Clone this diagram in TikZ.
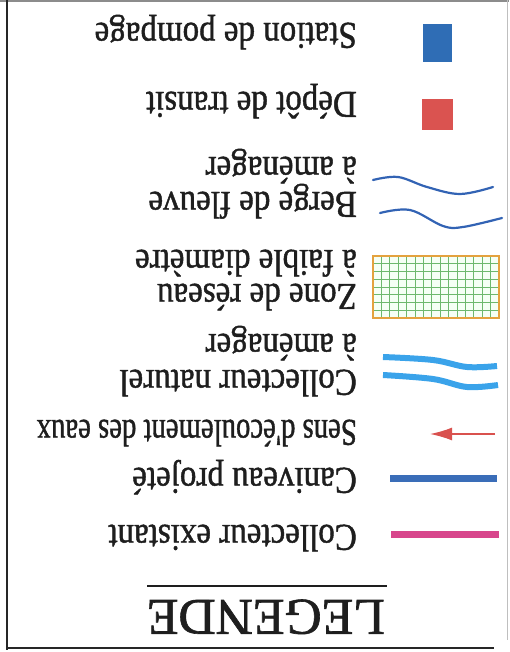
\documentclass[tikz,border=0pt]{standalone}
\usepackage{fontspec}
\setmainfont{Liberation Serif}
\newfontfamily\heavyserif{Liberation Serif}[FakeBold=1.2]
\usetikzlibrary{arrows.meta}
\definecolor{txt}{HTML}{1E1E1E}
\definecolor{pumpblue}{HTML}{2F6DB5}
\definecolor{depotred}{HTML}{DA5350}
\definecolor{bergeblue}{HTML}{3263B4}
\definecolor{natblue}{HTML}{3AA3EA}
\definecolor{gridgreen}{HTML}{6DB86D}
\definecolor{gridorange}{HTML}{E4A23E}
\definecolor{canblue}{HTML}{3A6DB8}
\definecolor{exmagenta}{HTML}{D8468C}
\definecolor{arrowred}{HTML}{D9514E}
\tikzset{
  lbl/.style={rotate=180, yscale=1.15, anchor=base west, inner sep=0pt, text=txt,
    font=\heavyserif\fontsize{33}{36}\selectfont},
  title/.style={rotate=180, anchor=base west, inner sep=0pt, text=txt,
    font=\heavyserif\fontsize{51.6}{55}\selectfont},
  frameline/.style={line width=2.5pt, black!85},
  berge/.style={bergeblue, line width=2.2pt, line cap=round, line join=round},
  natline/.style={natblue, line width=6pt},
  sym/.style={line width=7pt}
}
\begin{document}
\begin{tikzpicture}[x=1pt,y=-1pt]
\useasboundingbox (0,0) rectangle (509,652);
% frame
\draw[black!45, line width=1.5pt] (0,1) -- (509,1);
\draw[black!25, line width=0.8pt] (507,0) -- (507,640);
\draw[frameline] (7,0) -- (7,650);
\draw[frameline] (6,648) -- (494,648);

% labels (upside down)
\node[lbl] (t1) at (357,23) {Station de pompage};
\node[lbl] (t2) at (357,92) {Dépôt de transit};
\node[lbl] (t3b) at (357,157) {à aménager};
\node[lbl] (t3a) at (357,192) {Berge de fleuve};
\node[lbl] (t4b) at (357,250) {à faible diamètre};
\node[lbl] (t4a) at (357,284) {Zone de réseau};
\node[lbl] (t5b) at (357,334) {à aménager};
\node[lbl] (t5a) at (357,370) {Collecteur naturel};
\node[lbl, xscale=0.87] (t6) at (357,420) {Sens d'écoulement des eaux};
\node[lbl] (t7) at (357,468) {Caniveau projeté};
\node[lbl] (t8) at (357,525) {Collecteur existant};
\node[title] (ttl) at (385,600) {LEGENDE};
\draw[txt, line width=2pt] (147,586) -- (387,586);

% symbols
\fill[pumpblue] (423,24) rectangle (452,62);
\fill[depotred] (422,99) rectangle (453,130);
\draw[berge] plot[smooth, tension=0.6] coordinates {(373,180) (398,177) (427,187) (460,194) (493,187)};
\draw[berge] plot[smooth, tension=0.6] coordinates {(380,213) (410,210) (443,226) (463,227) (502,218)};
% grid zone
\fill[green!4] (373,256) rectangle (499,318);
\foreach \i in {1,...,14} {
  \draw[gridgreen, line width=0.7pt] ({373+\i*8.4},256) -- ({373+\i*8.4},318);
}
\foreach \j in {1,...,7} {
  \draw[gridgreen, line width=0.7pt] (373,{256+\j*7.75}) -- (499,{256+\j*7.75});
}
\draw[gridorange, line width=1.8pt] (373,256) rectangle (499,318);
% collecteur naturel
\draw[natline] plot[smooth, tension=0.6] coordinates {(383,357) (433,360) (467,367) (497,366)};
\draw[natline] plot[smooth, tension=0.6] coordinates {(383,375) (433,379) (467,387) (498,385)};
% arrow
\coordinate (a1) at (495,434);
\coordinate (a2) at (430,434);
\draw[arrowred, line width=1.5pt, -{Latex[length=22pt,width=13pt]}] (a1) -- (a2);
% caniveau
\draw[canblue, sym] (390,478) -- (497,478);
% collecteur existant
\draw[exmagenta, sym] (391,534) -- (499,534);
\end{tikzpicture}
\end{document}
